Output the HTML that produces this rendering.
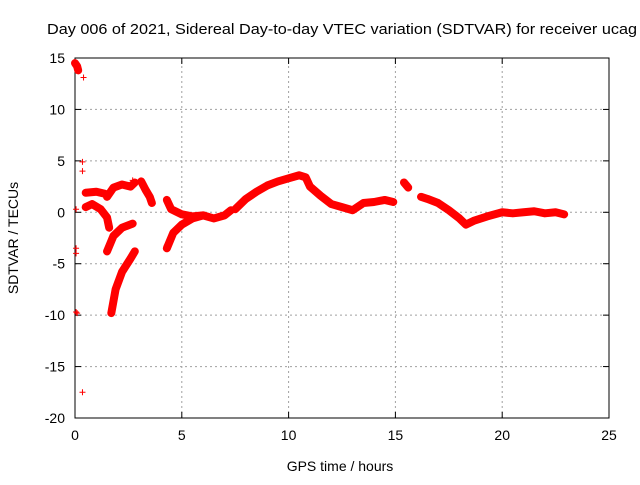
<!DOCTYPE html>
<html><head><meta charset="utf-8"><style>
body{margin:0;background:#fff;width:640px;height:480px;overflow:hidden;font-family:"Liberation Sans",sans-serif}
svg text{font-family:"Liberation Sans",sans-serif;font-size:14px;fill:#000}
</style></head><body>
<svg id="chart" width="640" height="480" xmlns="http://www.w3.org/2000/svg">
<text x="47" y="34" textLength="590" lengthAdjust="spacingAndGlyphs" style="font-size:15px">Day 006 of 2021, Sidereal Day-to-day VTEC variation (SDTVAR) for receiver ucag</text>
<g id="grid"></g><g id="axes"></g><g id="marks"></g>
<text x="340" y="471" text-anchor="middle">GPS time / hours</text>
<text transform="translate(18,238) rotate(-90)" text-anchor="middle">SDTVAR / TECUs</text>
</svg>
<script>
const xTicks=[0,5,10,15,20,25];
const yTicks=[15,10,5,0,-5,-10,-15,-20];
const bandA=[[0.0,14.5],[0.1,14.2],[0.15,13.8]];
const bandB=[[0.5,1.9],[1.0,2.0],[1.4,1.8]];
const bandC=[[0.5,0.5],[0.8,0.8],[1.2,0.3],[1.5,-0.5],[1.6,-1.5]];
const bandD=[[1.5,1.5],[1.8,2.4],[2.2,2.7],[2.6,2.5],[2.8,2.9]];
const bandE=[[1.5,-3.8],[1.8,-2.3],[2.2,-1.5],[2.7,-1.1]];
const bandF=[[1.7,-9.8],[1.9,-7.5],[2.2,-5.8],[2.6,-4.5],[2.8,-3.8]];
const bandG=[[3.1,3.0],[3.3,2.2],[3.5,1.5],[3.6,0.9]];
const bandI=[[4.3,-3.5],[4.6,-2.0],[5.0,-1.2],[5.5,-0.6],[6.0,-0.3]];
const bandJ=[[4.3,1.2],[4.5,0.3],[5.0,-0.2],[5.5,-0.4],[6.0,-0.3],[6.5,-0.6],[7.0,-0.3],[7.3,0.2]];
const bandK=[[7.5,0.3],[8.0,1.3],[8.5,2.0],[9.0,2.6],[9.5,3.0],[10.0,3.3],[10.5,3.6],[10.8,3.4],[11.0,2.5],[11.5,1.6],[12.0,0.8],[12.5,0.5],[13.0,0.2],[13.5,0.9],[14.0,1.0],[14.5,1.2],[14.9,1.0]];
const bandL=[[15.4,2.9],[15.6,2.4]];
const bandM=[[16.2,1.5],[16.5,1.3],[17.0,0.9],[17.5,0.2],[18.0,-0.6],[18.3,-1.2],[18.7,-0.8],[19.3,-0.4],[20.0,0.0],[20.5,-0.1],[21.0,0.0],[21.5,0.1],[22.0,-0.1],[22.5,0.0],[22.9,-0.2]];
const isolated=[[0.4,13.1],[0.35,4.9],[0.35,4.0],[0.05,0.3],[0.05,-3.5],[0.05,-4.0],[0.05,-9.7],[0.1,-9.8],[0.35,-17.5],[2.7,3.1],[4.3,-3.2]];
const bands=[bandA,bandB,bandC,bandD,bandE,bandF,bandG,bandI,bandJ,bandK,bandL,bandM];
const NS="http://www.w3.org/2000/svg";
const X0=75,X1=609,Y0=418,Y1=58;
function sx(v){return X0+(v-0)/(25-0)*(X1-X0);}
function sy(v){return Y0-(v+20)/(35)*(Y0-Y1);}
function mk(t,a,p){const e=document.createElementNS(NS,t);for(const k in a)e.setAttribute(k,a[k]);p.appendChild(e);return e;}
const grid=document.getElementById('grid'),axes=document.getElementById('axes'),marks=document.getElementById('marks');
xTicks.forEach(t=>{const x=sx(t);
 if(t>0&&t<25){const l=mk('line',{x1:x,y1:Y0,x2:x,y2:Y1,stroke:'#a0a0a0','stroke-dasharray':'2,3'},grid);}
 mk('line',{x1:x,y1:Y0,x2:x,y2:Y0-6,stroke:'#000'},axes);mk('line',{x1:x,y1:Y1,x2:x,y2:Y1+6,stroke:'#000'},axes);
 const tx=mk('text',{x:x,y:Y0+22,'text-anchor':'middle'},axes);tx.textContent=t;
 });
yTicks.forEach(t=>{const y=sy(t);
 if(t>-20&&t<15){const l=mk('line',{x1:X0,y1:y,x2:X1,y2:y,stroke:'#a0a0a0','stroke-dasharray':'2,3'},grid);}
 mk('line',{x1:X0,y1:y,x2:X0+6,y2:y,stroke:'#000'},axes);mk('line',{x1:X1,y1:y,x2:X1-6,y2:y,stroke:'#000'},axes);
 const tx=mk('text',{x:X0-10,y:y+5,'text-anchor':'end'},axes);tx.textContent=t;
 });
const fr=mk('rect',{x:X0,y:Y1,width:X1-X0,height:Y0-Y1,fill:'none',stroke:'#000'},axes);

bands.forEach(b=>{
 const pl=mk('polyline',{points:b.map(p=>sx(p[0])+','+sy(p[1])).join(' '),fill:'none',stroke:'#f00','stroke-width':8,'stroke-linejoin':'round','stroke-linecap':'round'},marks);
 });
function plus(p){const x=sx(p[0]),y=sy(p[1]);
 const pa=mk('path',{d:`M${x-3},${y}h6M${x},${y-3}v6`,stroke:'#f00','stroke-width':1},marks);
 }
isolated.forEach(plus);
</script>
</body></html>
